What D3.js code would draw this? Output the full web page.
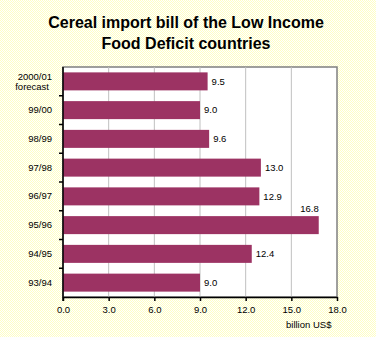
<!DOCTYPE html>
<html>
<head>
<meta charset="utf-8">
<script src="https://cdn.jsdelivr.net/npm/d3@7"></script>
<style>
  body { margin: 0; }
  svg { display: block; font-family: Arial, "Liberation Sans", sans-serif; }
</style>
</head>
<body>
<div id="chart"></div>
<script>
// seasons, top to bottom
let seasons = ['2000/01', '99/00', '98/99', '97/98', '96/97', '95/96', '94/95', '93/94'];
let importBill = [9.5, 9.0, 9.6, 13.0, 12.9, 16.8, 12.4, 9.0];
let xTicks = [0, 3, 6, 9, 12, 15, 18];
let titleLines = ['Cereal import bill of the Low Income', 'Food Deficit countries'];

let W = 376, H = 337;
let margin = {top: 67, right: 39, bottom: 40, left: 63},
    width = W - margin.left - margin.right,
    height = H - margin.top - margin.bottom;

let svg = d3.select('#chart')
    .append('svg')
    .attr('width', W)
    .attr('height', H);

// dithered yellow background
let pat = svg.append('defs').append('pattern')
    .attr('id', 'dither')
    .attr('width', 2).attr('height', 2)
    .attr('patternUnits', 'userSpaceOnUse');
pat.append('rect').attr('width', 2).attr('height', 2).attr('fill', '#ffffff');
pat.append('rect').attr('width', 1).attr('height', 1).attr('fill', '#ffffc4');
pat.append('rect').attr('x', 1).attr('y', 1).attr('width', 1).attr('height', 1).attr('fill', '#ffffc4');
svg.append('rect').attr('width', W).attr('height', H).attr('fill', 'url(#dither)');

svg.append('g')
    .selectAll('text')
    .data(titleLines)
    .enter()
    .append('text')
    .attr('x', 186)
    .attr('y', (d, i) => 28 + i * 21)
    .attr('text-anchor', 'middle')
    .style('font-size', '16px')
    .style('font-weight', 'bold')
    .text(d => d);

let g = svg.append('g')
    .attr('transform', 'translate(' + margin.left + ',' + margin.top + ')');

let x = d3.scaleLinear()
    .domain([0, 18])
    .range([0, width]);

let y = d3.scaleBand()
    .domain(seasons)
    .range([0, height])
    .paddingInner(0.374)
    .paddingOuter(0.187);

// plot area
g.append('rect')
    .attr('width', width)
    .attr('height', height)
    .attr('fill', '#ffffff')
    .attr('stroke', '#808080')
    .attr('stroke-width', 1.5);

// vertical gridlines
g.append('g')
    .selectAll('line')
    .data(xTicks.slice(1, -1))
    .enter()
    .append('line')
    .attr('x1', d => x(d)).attr('x2', d => x(d))
    .attr('y1', 0).attr('y2', height)
    .attr('stroke', '#c0c0c0')
    .attr('stroke-width', 1);

// bars
g.append('g')
    .selectAll('rect')
    .data(importBill)
    .enter()
    .append('rect')
    .attr('x', 0)
    .attr('y', (d, i) => y(seasons[i]))
    .attr('width', d => x(d))
    .attr('height', y.bandwidth())
    .attr('fill', '#9c3363');

// value labels; the longest bar gets its label above
g.append('g')
    .selectAll('text')
    .data(importBill)
    .enter()
    .append('text')
    .attr('x', d => d > 15 ? x(d) : x(d) + 4)
    .attr('y', (d, i) => d > 15 ? y(seasons[i]) - 4 : y(seasons[i]) + y.bandwidth() / 2)
    .attr('dy', (d) => d > 15 ? 0 : '0.35em')
    .attr('text-anchor', d => d > 15 ? 'end' : 'start')
    .style('font-size', '9.5px')
    .text(d => d.toFixed(1));

// x axis
let xAxis = g.append('g')
    .attr('transform', 'translate(0,' + height + ')')
    .call(d3.axisBottom(x).tickValues(xTicks).tickSize(4).tickSizeOuter(0).tickFormat(d3.format('.1f')));
xAxis.select('.domain').attr('stroke', '#000').attr('stroke-width', 1.5);
xAxis.selectAll('text').style('font-size', '9.5px').attr('fill', '#000').attr('dy', '0.9em');
xAxis.selectAll('.tick line').attr('stroke', '#000').attr('stroke-width', 1.5);

// y axis: labels centred on bars, ticks between categories
let yAxis = g.append('g')
    .call(d3.axisLeft(y).tickSize(0).tickPadding(11));
yAxis.select('.domain').remove();
yAxis.selectAll('text').style('font-size', '9.5px').attr('fill', '#000');
yAxis.selectAll('.tick text')
    .filter(d => d === '2000/01')
    .attr('dy', '-0.15em')
    .clone()
    .attr('dy', '0.95em')
    .attr('x', -14)
    .text('forecast');

g.append('line')
    .attr('x1', 0).attr('x2', 0)
    .attr('y1', 0).attr('y2', height + 4)
    .attr('stroke', '#000')
    .attr('stroke-width', 1.5);

g.append('g')
    .selectAll('line')
    .data(seasons.slice(1))
    .enter()
    .append('line')
    .attr('x1', -4).attr('x2', 0)
    .attr('y1', d => y(d) - y.step() * y.paddingInner() / 2)
    .attr('y2', d => y(d) - y.step() * y.paddingInner() / 2)
    .attr('stroke', '#000')
    .attr('stroke-width', 1.5);

g.append('text')
    .attr('x', 223)
    .attr('y', 261)
    .style('font-size', '9.5px')
    .text('billion US$');
</script>
</body>
</html>
